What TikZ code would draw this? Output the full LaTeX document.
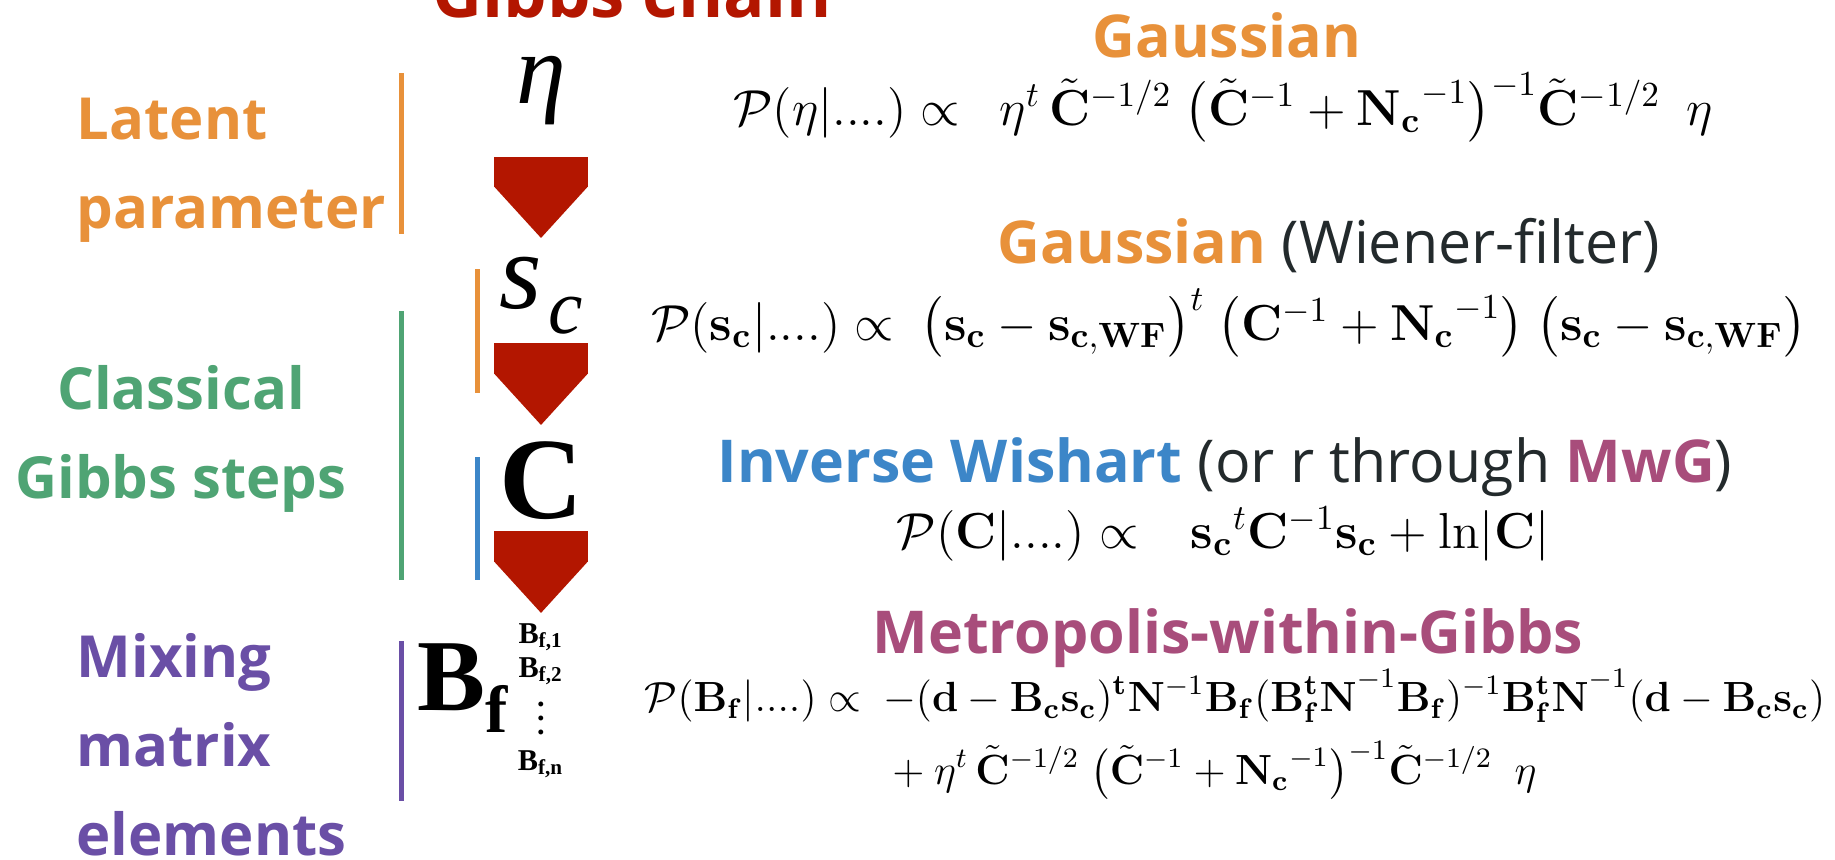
\documentclass[tikz,border=0pt]{standalone}
\usepackage{amsmath}
\usepackage[no-math]{fontspec}
\setmainfont{Open Sans}
\newfontfamily\timesfont{Liberation Serif}
\usepackage{tikz}
\usetikzlibrary{arrows.meta, positioning}
\definecolor{latent}{HTML}{E8913A}
\definecolor{classic}{HTML}{4FA474}
\definecolor{wishart}{HTML}{3C86C8}
\definecolor{mixing}{HTML}{6A4FA6}
\definecolor{mwg}{HTML}{A84D7B}
\definecolor{chain}{HTML}{B31600}
\definecolor{ink}{HTML}{232A2C}
\newcommand{\Ctil}{{\tilde{\mathbf{C}}}}

\begin{document}
\begin{tikzpicture}[
    x=0.01cm, y=-0.01cm,
    lbl/.style={font=\fontsize{16.5}{25.3}\selectfont\bfseries, inner sep=0pt,
                align=left, anchor=base west},
    head/.style={font=\fontsize{16.8}{20}\selectfont\bfseries, inner sep=0pt, anchor=base},
    eqn/.style={font=\fontsize{14}{17}\selectfont, inner sep=0pt, anchor=base},
    sym/.style={inner sep=0pt, anchor=base},
    bar/.style={line width=0.05cm},
    bigarrow/.style={color=chain, line width=0.93cm,
                     -{Triangle[width=0.93cm, length=0.51cm, line width=0pt]}},
]
    \useasboundingbox (0,0) rectangle (1835,860);

    \node[font=\fontsize{19.6}{24}\selectfont\bfseries, text=chain, anchor=base, inner sep=0pt]
        (title) at (632,17) {Gibbs chain};

    % left column (base = last line)
    \node[lbl, text=latent] (latent) at (76,228) {Latent\\parameter};
    \node[lbl, text=classic, align=center, anchor=base] (classical) at (181,498) {Classical\\Gibbs steps};
    \node[lbl, text=mixing] (mixing) at (76,855) {Mixing\\matrix\\elements};

    \draw[bar, latent]  (401,73)  -- (401,234);
    \draw[bar, classic] (401,311) -- (401,580);
    \draw[bar, latent]  (477,269) -- (477,393);
    \draw[bar, wishart] (477,457) -- (477,580);
    \draw[bar, mixing]  (401,641) -- (401,801);

    % chain
    \node[sym, font=\fontsize{28.5}{30}\timesfont\itshape] (eta) at (541,103) {η};
    \node[sym, font=\fontsize{31}{33}\timesfont\itshape] (sc) at (541,308)
        {s\hspace{0.06cm}\raisebox{-0.25cm}{\fontsize{22}{24}\selectfont c}};
    \node[sym, font=\fontsize{33}{35}\timesfont\bfseries] (cmat) at (541,518) {C};
    \node[sym, anchor=base west, font=\fontsize{29}{31}\timesfont\bfseries] (bf) at (417,710)
        {B\raisebox{-0.22cm}{\fontsize{19}{20}\selectfont f}};
    \node[sym, align=center, font=\fontsize{8.6}{9.7}\timesfont\bfseries] (bflist) at (541,770)
        {B\textsubscript{f,1}\\B\textsubscript{f,2}\\[6.5pt]\smash{$\vdots$}\\[0.5pt]B\textsubscript{f,n}};

    \draw[bigarrow, shorten <=0.54cm, shorten >=0.70cm] (eta.base) -- (sc.base);
    \draw[bigarrow, shorten <=0.35cm, shorten >=0.93cm] (sc.base) -- (cmat.base);
    \draw[bigarrow, shorten <=0.13cm, shorten >=1.57cm] (cmat.base) -- (bflist.base);

    % right column
    \node[head, text=latent] (gauss) at (1227,57) {Gaussian};
    \node[eqn] (peta) at (1223,125)
        {$\mathcal{P}(\eta|....) \propto\ \ \eta^t\,\Ctil^{-1/2}\ \bigl(\Ctil^{-1}+\mathbf{N_c}^{-1}\bigr)^{-1}\Ctil^{-1/2}\ \ \eta$};

    \node[head] (wiener) at (1329,263)
        {\textcolor{latent}{Gaussian} \textcolor{ink}{\mdseries(Wiener-filter)}};
    \node[eqn] (psc) at (1229,340)
        {$\mathcal{P}(\mathbf{s_c}|....) \propto\ \bigl(\mathbf{s_c}-\mathbf{s_{c,WF}}\bigr)^t\ \bigl(\mathbf{C}^{-1}+\mathbf{N_c}^{-1}\bigr)\ \bigl(\mathbf{s_c}-\mathbf{s_{c,WF}}\bigr)$};

    \node[head] (wishart) at (1225,482)
        {\textcolor{wishart}{Inverse Wishart} \textcolor{ink}{\mdseries(or r through} \textcolor{mwg}{MwG}\textcolor{ink}{\mdseries)}};
    \node[eqn] (pc) at (1223,548)
        {$\mathcal{P}(\mathbf{C}|....) \propto\ \ \ \mathbf{s_c}^t\mathbf{C}^{-1}\mathbf{s_c}+\mathrm{ln}|\mathbf{C}|$};

    \node[head, text=mwg] (metro) at (1228,653) {Metropolis-within-Gibbs};
    \node[eqn, font=\fontsize{12}{15}\selectfont, anchor=center] (pbf) at (1235,735)
        {$\begin{aligned}\mathcal{P}(\mathbf{B_f}|....) \propto\ \ &{-}(\mathbf{d}-\mathbf{B_c s_c})^{\mathbf{t}}\mathbf{N}^{-1}\mathbf{B_f}(\mathbf{B_f^tN}^{-1}\mathbf{B_f})^{-1}\mathbf{B_f^tN}^{-1}(\mathbf{d}-\mathbf{B_cs_c})\\
        &+\eta^t\,\Ctil^{-1/2}\ \bigl(\Ctil^{-1}+\mathbf{N_c}^{-1}\bigr)^{-1}\Ctil^{-1/2}\ \ \eta\end{aligned}$};
\end{tikzpicture}
\end{document}
